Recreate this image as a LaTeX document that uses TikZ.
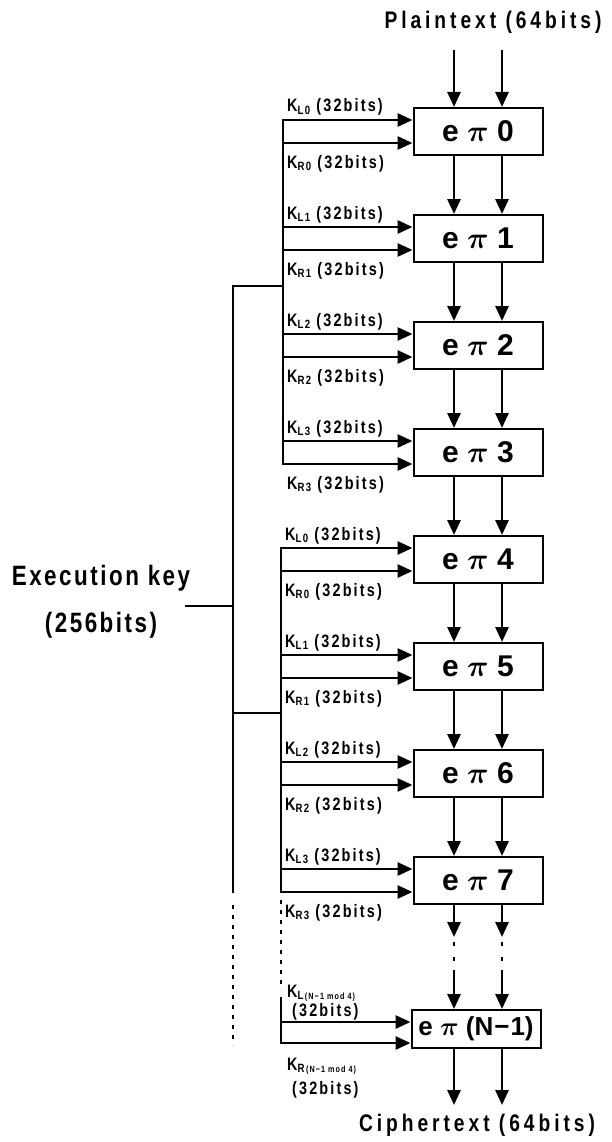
\documentclass[tikz,border=0pt]{standalone}
\usepackage{fix-cm}
\usepackage{bm}
\usepackage{fontspec}
\setmainfont{Liberation Sans}
\newfontfamily\labfont[FakeStretch=0.8,LetterSpace=12]{Liberation Sans}
\newfontfamily\bigfont[FakeStretch=0.8,LetterSpace=16.5]{Liberation Sans}
\newfontfamily\ekfont[FakeStretch=0.8,LetterSpace=9]{Liberation Sans}
\usetikzlibrary{arrows.meta}
\newcommand\kss[1]{\raisebox{-2.5pt}{\fontsize{12}{12}\selectfont #1}}
\newcommand\kst[1]{\raisebox{-2.5pt}{\fontsize{9}{10}\selectfont #1}}
\tikzset{
  ln/.style={line width=2.4pt},
  arr/.style={line width=2.8pt,-{Triangle[length=15pt,width=13pt]}},
  dotln/.style={line width=2.4pt,dash pattern=on 4pt off 6pt},
  box/.style={draw,line width=2pt,fill=white,minimum width=129pt,minimum height=47pt,inner sep=0pt,font=\bfseries\fontsize{30}{36}\selectfont},
  klab/.style={anchor=base west,inner sep=0pt,font=\labfont\bfseries\fontsize{18}{20}\selectfont},
  big/.style={inner sep=0pt,font=\bigfont\bfseries\fontsize{24}{28}\selectfont},
  ekey/.style={inner sep=0pt,font=\ekfont\bfseries\fontsize{28}{32}\selectfont},
}
\begin{document}
\begin{tikzpicture}[x=1pt,y=-1pt]
\useasboundingbox (0,0) rectangle (612,1142);

% boxes
\foreach \i in {0,...,7} {
  \pgfmathsetmacro\cy{131.5+107*\i}
  \node[box] (b\i) at (478,\cy) {e $\bm{\pi}$ \i};
}
\node[box,minimum height=38pt,font=\bfseries\fontsize{26}{30}\selectfont] (bN) at (476,1029) {e $\bm{\pi}$ (N\kern1pt−\kern1pt1)};

% plaintext / ciphertext
\node[big] (pt) at (493,22) {Plaintext (64bits)};
\node[big] (ct) at (477,1125) {Ciphertext (64bits)};
\coordinate (inL) at (454,50);
\coordinate (inR) at (502,50);
\draw[arr] (inL) -- (inL |- b0.north);
\draw[arr] (inR) -- (inR |- b0.north);

% arrows between boxes
\foreach \i/\j in {0/1,1/2,2/3,3/4,4/5,5/6,6/7} {
  \draw[arr] ([xshift=-24pt]b\i.south) -- ([xshift=-24pt]b\j.north);
  \draw[arr] ([xshift=24pt]b\i.south) -- ([xshift=24pt]b\j.north);
}
% broken arrows 7 -> N-1
\foreach \s/\n in {-24/L,24/R} {
  \coordinate (ma\n) at (478+\s,937);
  \coordinate (mb\n) at (478+\s,970);
  \draw[arr] ([xshift=\s pt]b7.south) -- (ma\n);
  \draw[ln] (478+\s,942) -- (478+\s,946);
  \draw[ln] (478+\s,957) -- (478+\s,961);
  \draw[arr] (mb\n) -- (mb\n |- bN.north);
  \coordinate (out\n) at (478+\s,1105);
  \draw[arr] (out\n |- bN.south) -- (out\n);
}

% key arrows and labels
\foreach \i/\g/\k in {0/283/0,1/283/1,2/283/2,3/283/3,4/281/0,5/281/1,6/281/2,7/281/3} {
  \pgfmathsetmacro\ty{108+107*\i}
  \coordinate (kl\i) at (\g,\ty+12);
  \coordinate (kr\i) at (\g,\ty+35);
  \draw[arr] (kl\i) -- (kl\i -| b\i.west);
  \draw[arr] (kr\i) -- (kr\i -| b\i.west);
  \node[klab] (lL\i) at (\g+4,\ty+4) {K\kss{L\k} (32bits)};
  \node[klab] (lR\i) at (\g+4,\ty+60) {K\kss{R\k} (32bits)};
}
% last key arrows
\coordinate (klN) at (281,1022);
\coordinate (krN) at (281,1043);
\coordinate (gN) at (281,998);
\draw[arr] (klN) -- (klN -| bN.west);
\draw[arr] (krN) -- (krN -| bN.west);
\node[klab] (lLN) at (287,997) {K\kss{L}\kst{\,(N−1 mod 4)}};
\node[klab] (lLNb) at (292,1016) {(32bits)};
\node[klab] (lRN) at (287,1070) {K\kss{R}\kst{\,(N−1 mod 4)}};
\node[klab] (lRNb) at (292,1094) {(32bits)};

% group verticals
\draw[ln,line cap=rect] (kl0) -- (kr3);
\draw[ln,line cap=rect] (kl4) -- (kr7);
\coordinate (gd) at (281,990);
\draw[dotln] (kr7) ++(0,8) -- (gd);
\draw[ln,line cap=rect] (gN) -- (krN);

% execution key bracket
\coordinate (bt) at (233,286);
\coordinate (bm) at (233,713);
\coordinate (bb) at (233,893);
\coordinate (be) at (233,1045);
\coordinate (bk) at (233,606);
\draw[ln] (283,286) -- (bt) -- (bb);
\draw[ln] (bm) -- (281,713);
\draw[dotln] (233,905) -- (be);
\node[ekey] (ek1) at (101,578) {Execution key};
\node[ekey] (ek2) at (101,625) {(256bits)};
\coordinate (ekl) at (185,606);
\draw[ln] (ekl) -- (bk);
\end{tikzpicture}
\end{document}
